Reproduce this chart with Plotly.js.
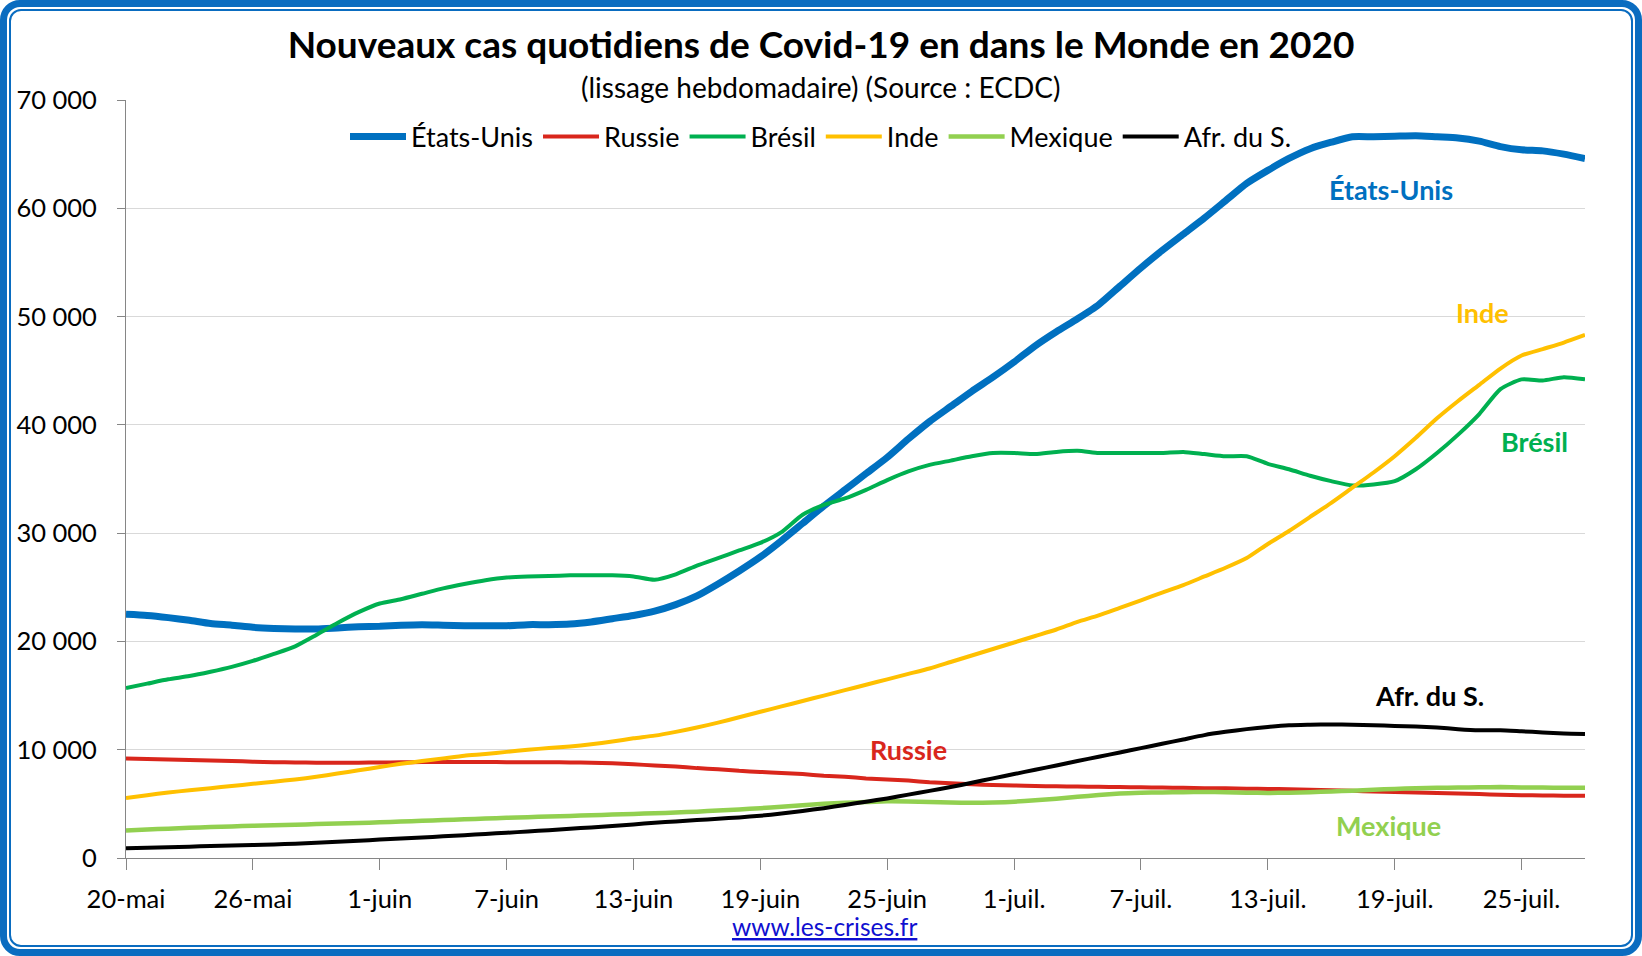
<!DOCTYPE html>
<html><head><meta charset="utf-8">
<script src="https://cdn.plot.ly/plotly-3.0.1.min.js"></script>
<style>
html,body{margin:0;padding:0;background:#fff;overflow:hidden}
#wrap{position:relative;width:1642px;height:956px}
#chart{position:absolute;left:0;top:0;width:1642px;height:956px}
.f1{position:absolute;left:0;top:0;width:1642px;height:956px;box-sizing:border-box;border:7px solid #0A6CC0;border-radius:20px;pointer-events:none}
.f2{position:absolute;left:9px;top:9px;width:1624px;height:938px;box-sizing:border-box;border:2px solid #0A6CC0;border-radius:12px;pointer-events:none}
</style></head>
<body><div id="wrap"><div id="chart"></div><div class="f1"></div><div class="f2"></div></div>
<script>
const dates = [
'2020-05-20','2020-05-21','2020-05-22','2020-05-23','2020-05-24','2020-05-25','2020-05-26','2020-05-27','2020-05-28','2020-05-29','2020-05-30','2020-05-31',
'2020-06-01','2020-06-02','2020-06-03','2020-06-04','2020-06-05','2020-06-06','2020-06-07','2020-06-08','2020-06-09','2020-06-10',
'2020-06-11','2020-06-12','2020-06-13','2020-06-14','2020-06-15','2020-06-16','2020-06-17','2020-06-18','2020-06-19','2020-06-20',
'2020-06-21','2020-06-22','2020-06-23','2020-06-24','2020-06-25','2020-06-26','2020-06-27','2020-06-28','2020-06-29','2020-06-30',
'2020-07-01','2020-07-02','2020-07-03','2020-07-04','2020-07-05','2020-07-06','2020-07-07','2020-07-08','2020-07-09','2020-07-10',
'2020-07-11','2020-07-12','2020-07-13','2020-07-14','2020-07-15','2020-07-16','2020-07-17','2020-07-18','2020-07-19','2020-07-20',
'2020-07-21','2020-07-22','2020-07-23','2020-07-24','2020-07-25','2020-07-26','2020-07-27','2020-07-28'];

const tickDates = ['2020-05-20','2020-05-26','2020-06-01','2020-06-07','2020-06-13','2020-06-19','2020-06-25','2020-07-01','2020-07-07','2020-07-13','2020-07-19','2020-07-25'];
const tickLabels = ['20-mai','26-mai','1-juin','7-juin','13-juin','19-juin','25-juin','1-juil.','7-juil.','13-juil.','19-juil.','25-juil.'];
const yTicks = [0,10000,20000,30000,40000,50000,60000,70000];

const etatsUnis = [22500,22400,22200,21950,21650,21500,21300,21200,21150,21150,21250,21350,
21400,21500,21550,21500,21450,21450,21450,21550,21550,21600,21800,22100,22400,22800,23400,24200,25300,26500,
27800,29300,30900,32500,34000,35500,37000,38700,40300,41700,43100,44400,
45800,47300,48600,49800,51100,52800,54500,56100,57600,59100,60700,62300,63500,64600,65500,66100,66600,66600,
66650,66700,66600,66500,66200,65700,65400,65300,65000,64600];

const russie = [9200,9150,9100,9050,9000,8950,8900,8850,8820,8800,8800,8800,
8820,8840,8860,8870,8870,8860,8850,8850,8850,8830,8800,8750,8650,8550,8450,8300,8200,8050,
7950,7850,7750,7600,7500,7350,7250,7150,7000,6900,6800,6750,
6700,6650,6620,6600,6580,6550,6530,6500,6480,6450,6430,6400,6380,6350,6300,6250,6200,6150,
6100,6050,6000,5950,5900,5850,5800,5780,5760,5750];

const bresil = [15700,16100,16500,16800,17200,17650,18200,18850,19550,20600,21700,22700,
23500,23900,24400,24900,25300,25650,25900,26000,26050,26100,26100,26100,26000,25700,26200,27000,27700,28400,
29100,30100,31700,32600,33200,34000,34900,35700,36300,36700,37100,37400,
37400,37300,37500,37600,37400,37400,37400,37400,37500,37300,37100,37100,36400,35900,35300,34800,34400,34500,
34800,35900,37400,39100,41000,43300,44200,44100,44400,44200,43800];

const inde = [5550,5800,6050,6250,6450,6650,6850,7050,7250,7500,7800,8100,
8400,8700,8950,9200,9450,9600,9800,10000,10150,10300,10500,10750,11050,11300,11650,12050,12500,13000,
13500,14000,14500,15000,15500,16000,16500,17000,17500,18100,18700,19300,
19900,20500,21100,21800,22400,23100,23800,24500,25200,26000,26800,27700,29000,30200,31500,32800,34200,35600,
37100,38800,40600,42200,43700,45200,46400,47000,47600,48300];

const mexique = [2550,2630,2710,2790,2860,2920,2980,3030,3080,3130,3180,3230,
3290,3360,3430,3500,3570,3640,3710,3770,3830,3890,3950,4010,4070,4130,4200,4280,4380,4480,
4600,4740,4880,5000,5100,5170,5230,5220,5180,5120,5100,5130,
5200,5330,5480,5650,5820,5950,6020,6060,6080,6100,6080,6030,6010,6030,6080,6150,6220,6300,
6380,6440,6480,6500,6530,6550,6520,6500,6490,6480];

const afrSud = [900,950,1000,1050,1100,1150,1200,1250,1320,1400,1500,1600,
1700,1800,1900,2000,2100,2220,2330,2450,2570,2700,2820,2950,3100,3250,3380,3500,3620,3750,
3900,4100,4350,4600,4900,5200,5500,5850,6200,6550,6950,7350,
7750,8150,8550,8950,9350,9750,10150,10550,10950,11350,11650,11900,12100,12250,12300,12330,12300,12250,
12200,12150,12050,11900,11800,11800,11700,11600,11500,11450];

const seriesNames = ['États-Unis','Russie','Brésil','Inde','Mexique','Afr. du S.'];
const seriesData = [etatsUnis, russie, bresil, inde, mexique, afrSud];
const seriesColors = ['#0070C0','#D9261C','#00B050','#FFC000','#92D050','#000000'];
const seriesWidths = [7,4,4,4,4.5,4];

const FONT = 'Lato, "Open Sans", sans-serif';

const traces = seriesNames.map((n,k)=>({
  type:'scatter', mode:'lines', name:n, x:dates, y:seriesData[k],
  line:{color:seriesColors[k], width:seriesWidths[k], shape:'spline', smoothing:0.6},
  hoverinfo:'skip'
}));

const labelPos = [
  {t:'États-Unis', x:0.867, y:0.882},
  {t:'Russie', x:0.536, y:0.1425},
  {t:'Brésil', x:0.9657, y:0.550},
  {t:'Inde', x:0.930, y:0.720},
  {t:'Mexique', x:0.865, y:0.0435},
  {t:'Afr. du S.', x:0.8937, y:0.215}
];

const annotations = labelPos.map((p,k)=>({
  xref:'paper', yref:'paper', x:p.x, y:p.y, xanchor:'center', yanchor:'middle',
  text:'<b>'+p.t+'</b>', showarrow:false,
  font:{family:FONT, size:27, color:seriesColors[k]}
}));
annotations.push({
  xref:'paper', yref:'paper', x:0.4763, y:1.017, xanchor:'center', yanchor:'middle',
  text:'(lissage hebdomadaire) (Source : ECDC)', showarrow:false,
  font:{family:FONT, size:28, color:'#000'}
});
annotations.push({
  xref:'paper', yref:'paper', x:0.479, y:-0.091, xanchor:'center', yanchor:'middle',
  text:'<u>www.les-crises.fr</u>', showarrow:false,
  font:{family:FONT, size:24.5, color:'#1010D0'}
});

const layout = {
  width:1642, height:956,
  margin:{l:126, r:57, t:100, b:98, autoexpand:false},
  paper_bgcolor:'#fff', plot_bgcolor:'#fff',
  separators:', ',
  font:{family:FONT, color:'#000'},
  title:{text:'<b>Nouveaux cas quotidiens de Covid-19 en dans le Monde en 2020</b>',
    x:0.5, xref:'container', xanchor:'center', y:1-45/956, yref:'container', yanchor:'middle',
    font:{family:FONT, size:37, color:'#000'}},
  showlegend:true,
  legend:{orientation:'h', xref:'container', yref:'container', x:0.5, xanchor:'center',
    y:1-137/956, yanchor:'middle', font:{family:FONT, size:27, color:'#000'},
    itemwidth:56,
    bgcolor:'rgba(0,0,0,0)', traceorder:'normal'},
  xaxis:{type:'date', range:['2020-05-20','2020-07-28'], tickmode:'array', tickvals:tickDates, ticktext:tickLabels,
    showgrid:false, showline:true, linecolor:'#868686', linewidth:1,
    ticks:'outside', ticklen:11, tickcolor:'#868686', tickwidth:1,
    tickfont:{family:FONT, size:25.5, color:'#000'}, ticklabelstandoff:7, zeroline:false, fixedrange:true},
  yaxis:{range:[0,70000], tickmode:'array', tickvals:yTicks, tickformat:',d',
    showgrid:true, gridcolor:'#D9D9D9', gridwidth:1, showline:true, linecolor:'#868686', linewidth:1,
    ticks:'outside', ticklen:8, tickcolor:'#868686', tickwidth:1,
    tickfont:{family:FONT, size:25.5, color:'#000'}, ticklabelstandoff:15, zeroline:false, fixedrange:true},
  annotations:annotations
};

Plotly.newPlot('chart', traces, layout, {staticPlot:true, displayModeBar:false});
</script>
</body></html>
